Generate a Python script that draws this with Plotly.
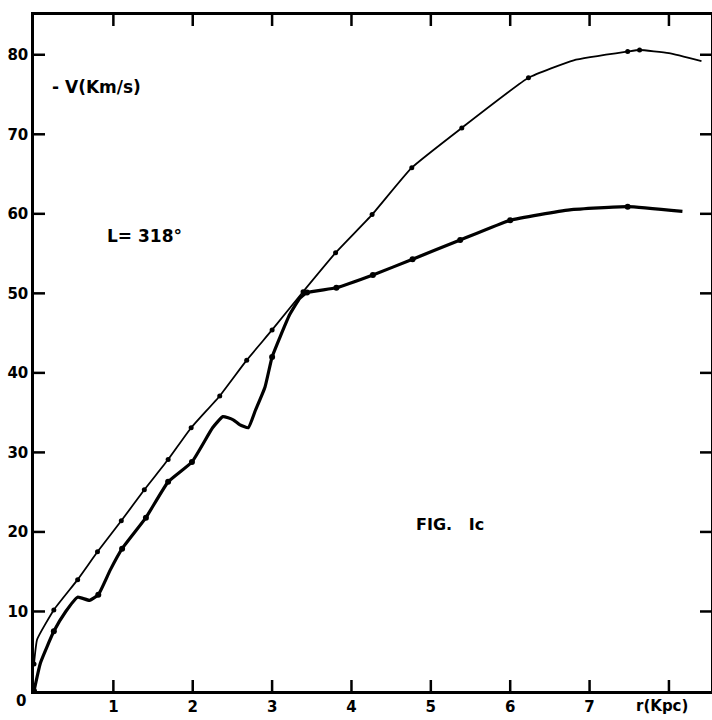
import plotly.graph_objects as go

# Upper (thin) curve
upper_r = [0.0, 0.04, 0.25, 0.55, 0.80, 1.10, 1.39, 1.69, 1.98, 2.34, 2.68, 3.00, 3.39, 3.80, 4.26, 4.76, 5.39, 6.23, 6.80, 7.48, 7.63, 8.00, 8.41]
upper_v = [3.4, 6.5, 10.2, 14.0, 17.5, 21.4, 25.3, 29.1, 33.1, 37.1, 41.6, 45.4, 50.2, 55.1, 59.9, 65.8, 70.8, 77.1, 79.3, 80.4, 80.6, 80.2, 79.2]
upper_dot_r = [0.0, 0.25, 0.55, 0.80, 1.10, 1.39, 1.69, 1.98, 2.34, 2.68, 3.00, 3.39, 3.80, 4.26, 4.76, 5.39, 6.23, 7.48, 7.63]
upper_dot_v = [3.4, 10.2, 14.0, 17.5, 21.4, 25.3, 29.1, 33.1, 37.1, 41.6, 45.4, 50.2, 55.1, 59.9, 65.8, 70.8, 77.1, 80.4, 80.6]

# Lower (thick) curve
lower_r = [0.0, 0.08, 0.25, 0.40, 0.55, 0.70, 0.81, 0.96, 1.11, 1.41, 1.69, 1.99, 2.25, 2.38, 2.51, 2.59, 2.70, 2.79, 2.91, 3.00, 3.10, 3.22, 3.35, 3.44, 3.81, 4.27, 4.77, 5.37, 6.00, 6.75, 7.48, 8.17]
lower_v = [0.0, 3.5, 7.5, 10.0, 11.8, 11.4, 12.1, 15.2, 17.9, 21.8, 26.3, 28.8, 33.1, 34.5, 34.1, 33.5, 33.1, 35.3, 38.2, 42.0, 44.5, 47.3, 49.4, 50.1, 50.7, 52.3, 54.3, 56.7, 59.2, 60.5, 60.9, 60.3]
lower_dot_r = [0.0, 0.25, 0.81, 1.11, 1.41, 1.69, 1.99, 3.00, 3.44, 3.81, 4.27, 4.77, 5.37, 6.00, 7.48]
lower_dot_v = [0.0, 7.5, 12.1, 17.9, 21.8, 26.3, 28.8, 42.0, 50.1, 50.7, 52.3, 54.3, 56.7, 59.2, 60.9]

x_ticks = [0, 1, 2, 3, 4, 5, 6, 7, 8]
x_ticktext = ["", "1", "2", "3", "4", "5", "6", "7", ""]
y_ticks = [0, 10, 20, 30, 40, 50, 60, 70, 80]
y_ticktext = ["", "10", "20", "30", "40", "50", "60", "70", "80"]

X_MAX, Y_MAX = 8.53, 85

FONT = "DejaVu Sans"
INK = "#000000"

W, H = 712, 720
L_, R_, T_, B_ = 34, 1, 15, 29
pw, ph = W - L_ - R_, H - T_ - B_

def px(xp):
    return (xp - L_) / pw

def py(yp):
    return (H - B_ - yp) / ph

bold = dict(family=FONT, size=15, color=INK, weight="bold")

fig = go.Figure()
fig.add_trace(go.Scatter(x=upper_r, y=upper_v, mode="lines",
                         line=dict(color=INK, width=1.8, shape="spline", smoothing=0.4),
                         hoverinfo="skip", showlegend=False))
fig.add_trace(go.Scatter(x=upper_dot_r, y=upper_dot_v, mode="markers",
                         marker=dict(color=INK, size=5), showlegend=False))
fig.add_trace(go.Scatter(x=lower_r, y=lower_v, mode="lines",
                         line=dict(color=INK, width=3.2, shape="spline", smoothing=0.4),
                         hoverinfo="skip", showlegend=False))
fig.add_trace(go.Scatter(x=lower_dot_r, y=lower_dot_v, mode="markers",
                         marker=dict(color=INK, size=6), showlegend=False))

# inward tick marks on all four sides, as shapes derived from the tick arrays
TL = 11
dx = X_MAX * TL / pw
dy = Y_MAX * TL / ph
tick_line = dict(color=INK, width=2.5)
for v in x_ticks[1:]:
    fig.add_shape(type="line", xref="x", yref="y", x0=v, x1=v, y0=0, y1=dy, line=tick_line, layer="above")
    fig.add_shape(type="line", xref="x", yref="y", x0=v, x1=v, y0=Y_MAX, y1=Y_MAX - dy, line=tick_line, layer="above")
for v in y_ticks[1:]:
    fig.add_shape(type="line", xref="x", yref="y", x0=0, x1=dx, y0=v, y1=v, line=tick_line, layer="above")
    fig.add_shape(type="line", xref="x", yref="y", x0=X_MAX, x1=X_MAX - dx, y0=v, y1=v, line=tick_line, layer="above")

axis_common = dict(showgrid=False, zeroline=False, showline=True, linecolor=INK,
                   linewidth=2.5, mirror=True, ticks="", automargin=False,
                   tickfont=dict(family=FONT, size=15, color=INK, weight="bold"))

fig.update_layout(
    width=W, height=H,
    margin=dict(l=L_, r=R_, t=T_, b=B_, autoexpand=False),
    paper_bgcolor="white", plot_bgcolor="white",
    xaxis=dict(range=[0, X_MAX], tickmode="array", tickvals=x_ticks, ticktext=x_ticktext, **axis_common),
    yaxis=dict(range=[0, Y_MAX], tickmode="array", tickvals=y_ticks, ticktext=y_ticktext, **axis_common),
    annotations=[
        dict(text="- V(Km/s)", x=px(50), y=py(87), xref="paper", yref="paper", showarrow=False,
             xanchor="left", yanchor="middle", font=dict(bold, size=17)),
        dict(text="L= 318°", x=px(105), y=py(236), xref="paper", yref="paper", showarrow=False,
             xanchor="left", yanchor="middle", font=dict(bold, size=17)),
        dict(text="FIG.   Ic", x=px(414), y=py(524), xref="paper", yref="paper", showarrow=False,
             xanchor="left", yanchor="middle", font=dict(bold, size=16)),
        dict(text="r(Kpc)", x=px(662), y=py(706), xref="paper", yref="paper", showarrow=False,
             xanchor="center", yanchor="middle", font=bold),
        dict(text="0", x=px(21), y=py(701), xref="paper", yref="paper", showarrow=False,
             xanchor="center", yanchor="middle", font=bold),
    ],
)

fig.write_html("out.html", config={"displayModeBar": False},
               post_script="document.body.style.margin='0';document.body.style.overflow='hidden';")
